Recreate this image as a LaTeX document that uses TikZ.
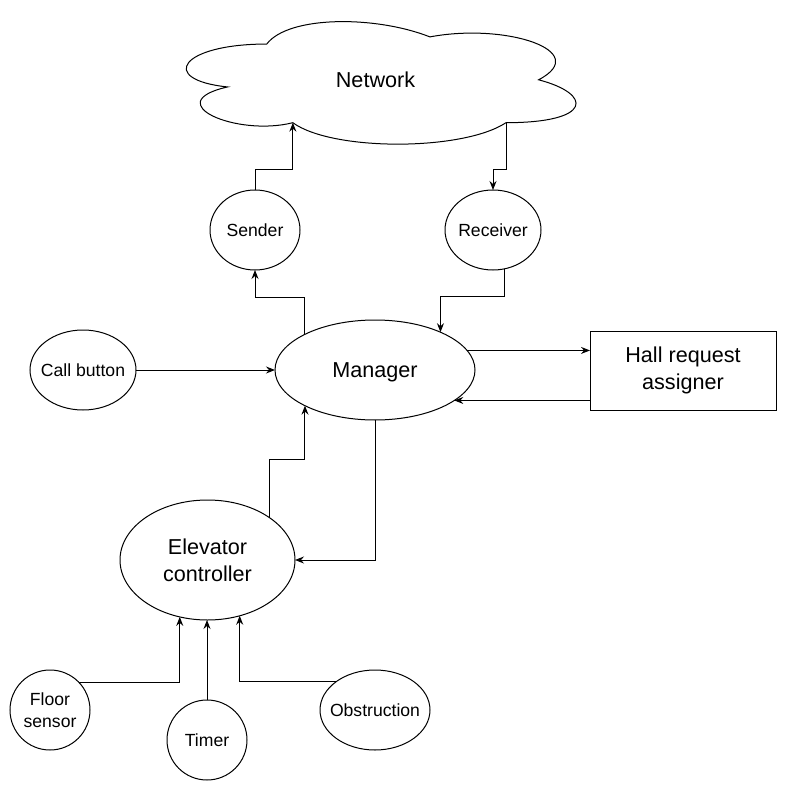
\documentclass[tikz,border=0pt]{standalone}
\usepackage{fontspec}
\setmainfont{Liberation Sans}
\usetikzlibrary{shapes.geometric,arrows.meta}
\tikzset{
  base/.style={draw=black, line width=1pt, inner sep=0pt, outer sep=0pt, align=center, text=black},
  ell/.style={base, ellipse, inner xsep=-25pt, inner ysep=-20pt},
  smalltxt/.style={font=\fontsize{17.6}{21.7}\selectfont},
  bigtxt/.style={font=\fontsize{21.6}{27}\selectfont},
  box/.style={base, rectangle},
  arr/.style={draw=black, line width=1pt, -{Stealth[length=9pt,width=7pt,inset=3pt]}},
}
\begin{document}
\begin{tikzpicture}[x=1pt,y=-1pt]
\useasboundingbox[fill=white] (0,0) rectangle (786,791);
% cloud
\draw[line width=1pt] (266.75,44.05) .. controls (179.75,44.05) and (158,79.8) .. (227.6,86.95)
  .. controls (158,102.68) and (236.3,137) .. (292.85,122.7)
  .. controls (332,151.3) and (462.5,151.3) .. (506,122.7)
  .. controls (593,122.7) and (593,94.1) .. (538.6,79.8)
  .. controls (593,51.2) and (506,22.6) .. (429.9,36.9)
  .. controls (375.5,15.45) and (288.5,15.45) .. (266.75,44.05) -- cycle;
\node[bigtxt] (network) at (375.5,80) {Network};
\coordinate (cloudL) at (292.85,122.7);
\coordinate (cloudR) at (506,122.7);
% nodes
\node[ell, smalltxt, minimum width=90pt, minimum height=80pt] (sender) at (255,230) {Sender};
\node[ell, smalltxt, minimum width=96pt, minimum height=80pt] (receiver) at (493,230) {Receiver};
\node[ell, bigtxt, text depth=0pt, minimum width=200pt, minimum height=100pt] (manager) at (375,370) {Manager};
\node[ell, smalltxt, minimum width=106pt, minimum height=80pt] (call) at (83,370) {Call button};
\node[box, bigtxt, minimum width=186pt, minimum height=79pt] (hall) at (683,370.5) {Hall request\\assigner};
\node[ell, bigtxt, minimum width=175pt, minimum height=120pt] (elev) at (207.5,560) {Elevator\\controller};
\node[ell, smalltxt, minimum width=80pt, minimum height=80pt] (floor) at (50,710) {Floor\\sensor};
\node[ell, smalltxt, minimum width=80pt, minimum height=80pt] (timer) at (207,740) {Timer};
\node[ell, smalltxt, minimum width=110pt, minimum height=80pt] (obs) at (375,710) {Obstruction};
% connectors
\draw[arr] (sender.north) -- ++(0,-20) -| (cloudL);
\draw[arr] (cloudR) -- ++(0,47.3) -| (receiver.north);
\draw[arr] (manager.153) -- ++(0,-37) -| (sender.south);
\draw[arr] (receiver.-73) -- ++(0,27.3) -| (manager.30);
\draw[arr] (call.east) -- (manager.west);
\draw[arr] (manager.12) -- (manager.12 -| hall.west);
\draw[arr] (manager.-21 -| hall.west) -- (manager.-21);
\draw[arr] (elev.34) -- ++(0,-58) -| (manager.207);
\draw[arr] (manager.south) |- (elev.east);
\draw[arr] (floor.44) -| (elev.-116);
\draw[arr] (timer.north) -- (timer.north |- elev.south);
\draw[arr] (obs.144) -| (elev.-60);
\end{tikzpicture}
\end{document}
